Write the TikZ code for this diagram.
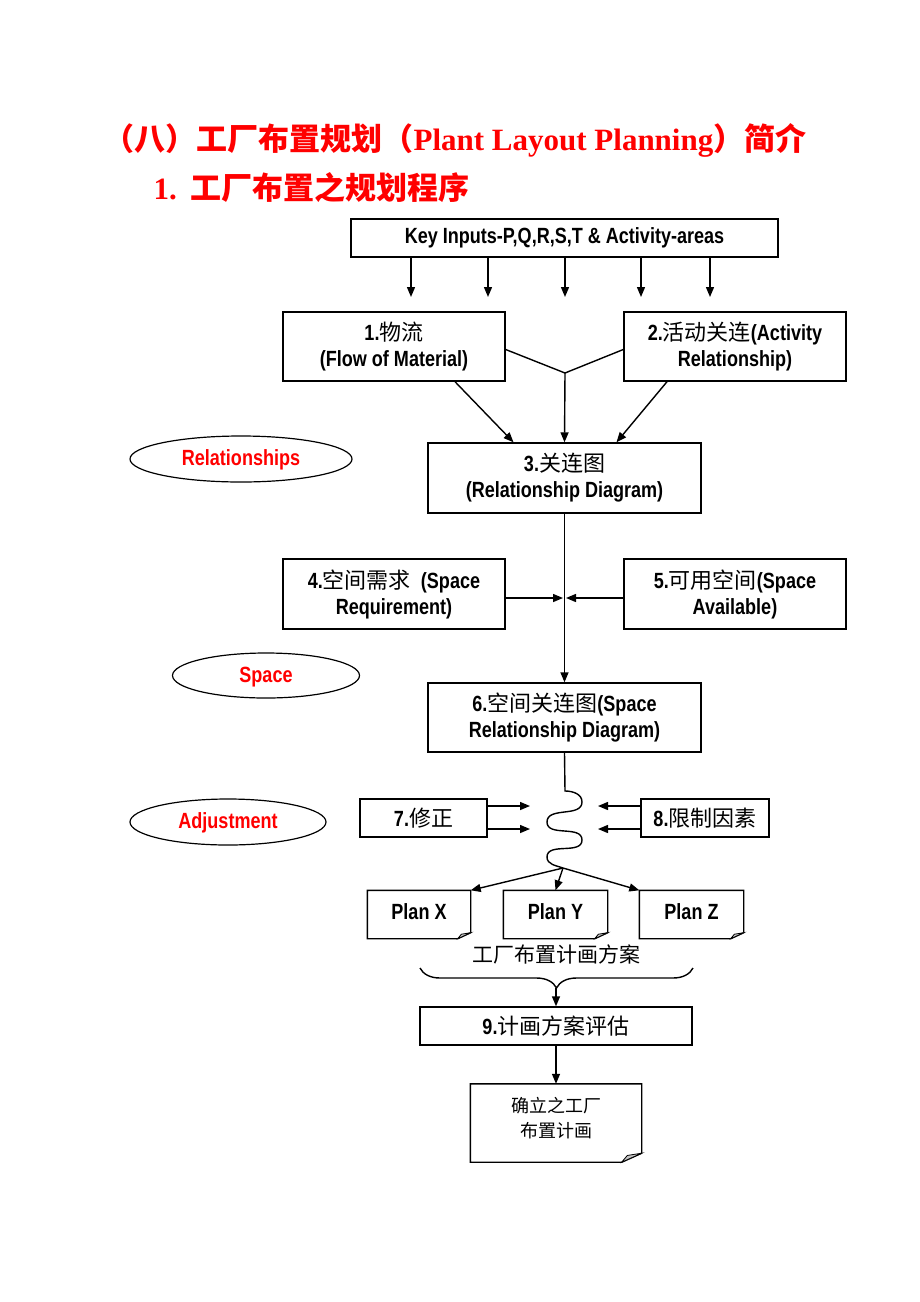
\documentclass[tikz,border=0pt]{standalone}
\usepackage{fontspec}
\setmainfont{Liberation Sans}[FakeStretch=0.82]
\newfontfamily\cjk{Noto Sans CJK SC}
\newfontfamily\titleserif{Liberation Serif}
\usetikzlibrary{shapes.geometric,arrows.meta,decorations.pathreplacing}

\newcommand\zh[1]{{\cjk\mdseries #1}}
% outline with a folded corner: node, ear width, ear height
\newcommand\foldbox[3]{%
  \draw[line width=1.4pt] (#1.north west) -- (#1.north east) -- ([yshift=#3]#1.south east)
    -- ([xshift=-#2]#1.south east) -- (#1.south west) -- cycle;
  \filldraw[line width=0.8pt, fill=gray!45] ([yshift=#3]#1.south east) -- ([xshift=-#2]#1.south east)
    -- ([xshift=-0.72*#2, yshift=0.75*#3]#1.south east) -- cycle;
}

\tikzset{
  box/.style={draw, line width=1.4pt, minimum width=222pt, minimum height=69pt, inner sep=0pt,
    align=center, font=\bfseries\fontsize{22}{26}\selectfont},
  widebox/.style={box, minimum width=273pt},
  smallbox/.style={box, minimum width=127pt, minimum height=38pt},
  planbox/.style={box, draw=none, minimum width=102pt, minimum height=47pt, text depth=6pt},
  tag/.style={ellipse, draw, line width=1.2pt, inner sep=0pt, text=red, text depth=2pt,
    font=\bfseries\fontsize{22}{26}\selectfont},
  conn/.style={line width=1.4pt},
  flow/.style={conn, -{Triangle[length=10pt,width=8pt]}},
}

\begin{document}
\begin{tikzpicture}[x=1pt, y=-1pt]
	\useasboundingbox (0,0) rectangle (920,1302);

	% titles
	\node[anchor=base, text=red, font=\fontsize{31}{36}\selectfont] (t1) at (455,150)
		{{\cjk\bfseries （八）工厂布置规划（}{\titleserif\bfseries Plant Layout Planning}{\cjk\bfseries ）简介}};
	\node[anchor=base west, text=red, font=\fontsize{31}{36}\selectfont] (t2) at (150,199)
		{{\titleserif\bfseries 1.}\ \ {\cjk\bfseries 工厂布置之规划程序}};

	% boxes
	\node[box, minimum width=427pt, minimum height=38pt] (key) at (564.5,238) {Key Inputs-P,Q,R,S,T \& Activity-areas};
	\node[box] (b1) at (394,346.5) {1.\zh{物流}\\(Flow of Material)};
	\node[box] (b2) at (735,346.5) {2.\zh{活动关连}(Activity\\Relationship)};
	\node[widebox, minimum height=70pt] (b3) at (564.5,478) {3.\zh{关连图}\\(Relationship Diagram)};
	\node[box, minimum height=70pt] (b4) at (394,594) {4.\zh{空间需求}\ \ (Space\\Requirement)};
	\node[box, minimum height=70pt] (b5) at (735,594) {5.\zh{可用空间}(Space\\Available)};
	\node[widebox] (b6) at (564.5,717.5) {6.\zh{空间关连图}(Space\\Relationship Diagram)};
	\node[smallbox] (b7) at (423.5,818) {7.\zh{修正}};
	\node[smallbox, minimum width=128pt] (b8) at (705,818) {8.\zh{限制因素}};

	\node[planbox] (px) at (419,914.5) {Plan X};
	\node[planbox, minimum width=103pt] (py) at (555.5,914.5) {Plan Y};
	\node[planbox, minimum width=103pt] (pz) at (691.5,914.5) {Plan Z};
	\node[font=\cjk\fontsize{21}{24}\selectfont] (plans) at (556,954) {工厂布置计画方案};

	\node[box, minimum width=272pt, minimum height=38pt] (b9) at (556,1026) {9.\zh{计画方案评估}};
	\node[box, draw=none, minimum width=170pt, minimum height=77pt, text depth=12pt,
		font=\cjk\fontsize{18}{25}\selectfont] (fin) at (556,1123) {确立之工厂\\布置计画};

	% side tags
	\node[tag, minimum width=222pt, minimum height=46pt] (rel) at (241,459) {Relationships};
	\node[tag, minimum width=187pt, minimum height=45pt] (spc) at (266,675.5) {Space};
	\node[tag, minimum width=196pt, minimum height=46pt] (adj) at (228,822) {Adjustment};

	% key inputs
	\foreach \x [count=\i] in {411,488,565,641,710} {
		\coordinate (in\i) at (\x,297);
		\draw[flow] (key.south -| in\i) -- (in\i);
	}

	% into relationship diagram
	\coordinate (jn) at (565,373);
	\draw[conn] ([yshift=-3pt]b1.east) -- (jn) -- ([yshift=-3pt]b2.west);
	\draw[flow] (jn) -- (b3.north);
	\draw[flow] ([xshift=61pt]b1.south) -- ([xshift=-51pt]b3.north);
	\draw[flow] ([xshift=-68pt]b2.south) -- ([xshift=52pt]b3.north);

	% space
	\draw[flow] (b3.south) -- (b6.north);
	\draw[flow, shorten >=1.5pt] ([yshift=-4pt]b4.east) -- ([yshift=-4pt]b4.east -| b3.south);
	\draw[flow, shorten >=1.5pt] ([yshift=-4pt]b5.west) -- ([yshift=-4pt]b5.west -| b3.south);

	% adjustment
	\coordinate (wv) at (563,868);
	\draw[conn] (b6.south) -- (565,791) to[out=0,in=90] (582,802) to[out=-90,in=90] (547,822)
		to[out=-90,in=90] (582,840) to[out=-90,in=90] (547,857) to[out=-90,in=160] (wv);
	\foreach \y [count=\i] in {806,829} {
		\coordinate (l\i) at (530,\y);
		\coordinate (r\i) at (598,\y);
		\draw[flow] (b7.east |- l\i) -- (l\i);
		\draw[flow] (b8.west |- r\i) -- (r\i);
	}

	% plans
	\draw[flow] (wv) -- (px.north east);
	\draw[flow] (wv) -- (py.north);
	\draw[flow] (wv) -- (pz.north west);
	\foldbox{px}{13pt}{6pt}
	\foldbox{py}{13pt}{6pt}
	\foldbox{pz}{13pt}{6pt}

	% evaluation
	\coordinate (brl) at (420,968);
	\coordinate (brr) at (693,968);
	\coordinate (brt) at (556,988);
	\draw[conn, decorate, decoration={brace, mirror, amplitude=20pt}] (brl) -- (brr);
	\draw[flow] (brt) -- (b9.north);
	\draw[flow] (b9.south) -- (fin.north);
	\foldbox{fin}{20pt}{9pt}
\end{tikzpicture}
\end{document}
